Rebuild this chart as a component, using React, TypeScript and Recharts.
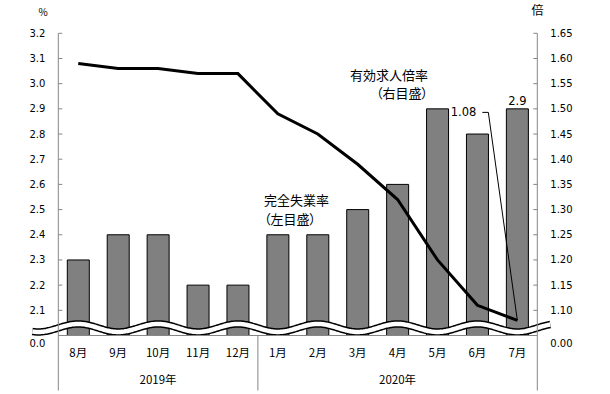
import React from 'react';
import { ComposedChart, Bar, Line, XAxis, YAxis, ReferenceLine, LabelList } from 'recharts';

const categories = ['8月', '9月', '10月', '11月', '12月', '1月', '2月', '3月', '4月', '5月', '6月', '7月'];
const yearLabels = ['2019年', '2020年'];
const yearOfMonth = [0, 0, 0, 0, 0, 1, 1, 1, 1, 1, 1, 1];
const unemployment = [2.3, 2.4, 2.4, 2.2, 2.2, 2.4, 2.4, 2.5, 2.6, 2.9, 2.8, 2.9];
const jobRatio = [1.59, 1.58, 1.58, 1.57, 1.57, 1.49, 1.45, 1.39, 1.32, 1.2, 1.11, 1.08];
const leftTicks = [2.0, 2.1, 2.2, 2.3, 2.4, 2.5, 2.6, 2.7, 2.8, 2.9, 3.0, 3.1, 3.2];
const rightTicks = [1.05, 1.1, 1.15, 1.2, 1.25, 1.3, 1.35, 1.4, 1.45, 1.5, 1.55, 1.6, 1.65];
const breakValue = 2.03;

const data = categories.map((c, i) => ({
  month: c,
  unemployment: unemployment[i],
  jobRatio: jobRatio[i],
}));

const NUM_FONT = '"DejaVu Sans", sans-serif';
const JP_FONT = '"Noto Sans CJK JP", sans-serif';
const AXIS_GRAY = '#868686';

const LeftTick = (props: any) => {
  const { x, y, payload } = props;
  const v = payload.value;
  const isBase = v === leftTicks[0];
  return (
    <g>
      {!isBase && <line x1={x + 13} x2={x + 17} y1={y} y2={y} stroke={AXIS_GRAY} />}
      <text x={x} y={isBase ? y + 8 : y} dy={3.5} textAnchor="end" fontFamily={NUM_FONT} fontSize={10} fill="#000">
        {isBase ? '0.0' : v.toFixed(1)}
      </text>
    </g>
  );
};

const RightTick = (props: any) => {
  const { x, y, payload } = props;
  const v = payload.value;
  const isBase = v === rightTicks[0];
  return (
    <g>
      {!isBase && <line x1={x - 13} x2={x - 17} y1={y} y2={y} stroke={AXIS_GRAY} />}
      <text x={x} y={isBase ? y + 8 : y} dy={3.5} textAnchor="start" fontFamily={NUM_FONT} fontSize={10} fill="#000">
        {isBase ? '0.00' : v.toFixed(2)}
      </text>
    </g>
  );
};

const MonthTick = (props: any) => {
  const { x, y, payload, index } = props;
  const step = props.width ? props.width / categories.length : 2 * (payload.offset || 20);
  const g = yearOfMonth[index];
  const first = yearOfMonth.indexOf(g);
  const last = yearOfMonth.lastIndexOf(g);
  const center = (first + last) / 2;
  const els: any[] = [];
  els.push(
    <text key="m" x={x} y={y + 21} textAnchor="middle" fontFamily={JP_FONT} fontSize={11.5} fill="#000">
      {payload.value}
    </text>
  );
  if (index === first) {
    els.push(
      <text key="y" x={x + (center - index) * step} y={y + 48} textAnchor="middle" fontFamily={JP_FONT} fontSize={11.5} fill="#000">
        {yearLabels[g]}
      </text>
    );
    els.push(<line key="s" x1={x - step / 2} x2={x - step / 2} y1={y} y2={y + 55} stroke={AXIS_GRAY} />);
  }
  if (index === categories.length - 1) {
    els.push(<line key="e" x1={x + step / 2} x2={x + step / 2} y1={y} y2={y + 55} stroke={AXIS_GRAY} />);
  }
  return <g>{els}</g>;
};

const WaveBand = (props: any) => {
  const { x1, x2, y1 } = props;
  const period = ((x2 - x1) / categories.length) * 2;
  const amp = 4;
  const left = x1 - 26;
  const right = x2 + 13;
  let d = '';
  for (let xx = left; xx <= right + 0.01; xx += 1) {
    const yy = y1 - amp * Math.sin((2 * Math.PI * (xx - x1)) / period);
    d += (d ? ' L ' : 'M ') + xx.toFixed(2) + ' ' + yy.toFixed(2);
  }
  return (
    <g>
      <path d={d} stroke="#000" strokeWidth={7.5} fill="none" />
      <path d={d} stroke="#fff" strokeWidth={4.5} fill="none" />
    </g>
  );
};

const BarLabel = (props: any) => {
  const { x, y, width, value, index } = props;
  if (index !== categories.length - 1) return null;
  return (
    <text x={x + width / 2} y={y - 4} textAnchor="middle" fontFamily={NUM_FONT} fontSize={11.5} fill="#000">
      {Number(value).toFixed(1)}
    </text>
  );
};

const LineLabel = (props: any) => {
  const { x, y, value, index } = props;
  if (index !== categories.length - 1) return null;
  return (
    <g>
      <text x={x - 41} y={y - 204} textAnchor="end" fontFamily={NUM_FONT} fontSize={11.5} fill="#000">
        {Number(value).toFixed(2)}
      </text>
      <path d={`M ${x - 35} ${y - 208} L ${x - 29} ${y - 208} L ${x} ${y}`} stroke="#000" strokeWidth={1} fill="none" />
    </g>
  );
};

export default function App() {
  return (
    <div style={{ position: 'absolute', left: 0, top: 0, width: 610, height: 394, background: '#fff' }}>
      <ComposedChart
        width={610}
        height={394}
        data={data}
        margin={{ top: 33.3, right: 0, bottom: 0, left: 0 }}
      >
        <XAxis
          dataKey="month"
          height={58.5}
          tickSize={0}
          tickMargin={0}
          tickLine={false}
          axisLine={{ stroke: AXIS_GRAY }}
          interval={0}
          tick={<MonthTick />}
        />
        <YAxis
          yAxisId="left"
          orientation="left"
          width={58.3}
          domain={[2.0, 3.2]}
          ticks={leftTicks}
          interval={0}
          tickSize={0}
          tickMargin={13}
          tickLine={false}
          axisLine={{ stroke: AXIS_GRAY }}
          tick={<LeftTick />}
          allowDataOverflow
        />
        <YAxis
          yAxisId="right"
          orientation="right"
          width={72.7}
          domain={[1.05, 1.65]}
          ticks={rightTicks}
          interval={0}
          tickSize={0}
          tickMargin={13}
          tickLine={false}
          axisLine={{ stroke: AXIS_GRAY }}
          tick={<RightTick />}
          allowDataOverflow
        />
        <Bar
          yAxisId="left"
          dataKey="unemployment"
          fill="#808080"
          stroke="#000"
          strokeWidth={1}
          barSize={22}
          isAnimationActive={false}
        >
          <LabelList dataKey="unemployment" content={<BarLabel />} />
        </Bar>
        <ReferenceLine yAxisId="left" y={breakValue} shape={<WaveBand />} ifOverflow="visible" />
        <Line
          yAxisId="right"
          dataKey="jobRatio"
          stroke="#000"
          strokeWidth={3}
          dot={false}
          activeDot={false}
          isAnimationActive={false}
        >
          <LabelList dataKey="jobRatio" content={<LineLabel />} />
        </Line>
      </ComposedChart>
      <svg width={610} height={394} style={{ position: 'absolute', left: 0, top: 0, pointerEvents: 'none' }}>
        <text x={43} y={16} textAnchor="middle" fontFamily={JP_FONT} fontSize={10} fill="#000">%</text>
        <text x={537.5} y={14.5} textAnchor="middle" fontFamily={JP_FONT} fontSize={12} fill="#000">倍</text>
        <g fontFamily={JP_FONT} fontSize={13} fill="#000" style={{ fontFeatureSettings: '"palt"' }}>
          <text x={428} y={79.5} textAnchor="end">有効求人倍率</text>
          <text x={428} y={98} textAnchor="end">（右目盛）</text>
          <text x={264} y={205} textAnchor="start">完全失業率</text>
          <text x={264} y={224} textAnchor="start">（左目盛）</text>
        </g>
      </svg>
    </div>
  );
}
